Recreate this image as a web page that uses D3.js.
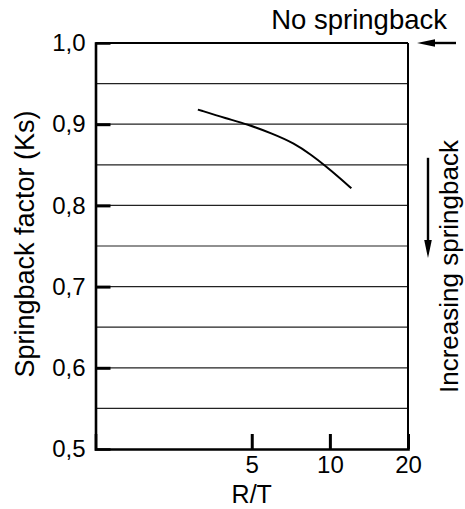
<!DOCTYPE html>
<html>
<head>
<meta charset="utf-8">
<script src="https://cdn.jsdelivr.net/npm/d3@7"></script>
<style>
  body { margin: 0; background: #fff; }
  text { font-family: "Liberation Sans", Arial, sans-serif; fill: #000; }
</style>
</head>
<body>
<div id="chart"></div>
<script>
// curve (R/T vs springback factor)
var rt = [3.1, 4, 4.8, 6, 7.3, 8.5, 9.5, 11, 12.1];
var ks = [0.918, 0.907, 0.9, 0.8885, 0.8765, 0.862, 0.85, 0.833, 0.821];

var xTicks = [5, 10, 20];
var yTicks = [0.5, 0.6, 0.7, 0.8, 0.9, 1.0];
var gridVals = [0.55, 0.6, 0.65, 0.7, 0.75, 0.8, 0.85, 0.9, 0.95];

var W = 465, H = 509;
var m = { left: 95.5, right: 57, top: 43, bottom: 60 };
var w = W - m.left - m.right, h = H - m.top - m.bottom;

var svg = d3.select('#chart').append('svg')
  .attr('width', W)
  .attr('height', H);

var g = svg.append('g')
  .attr('transform', 'translate(' + m.left + ',' + m.top + ')');

var xScale = d3.scaleLog().domain([1.25, 20]).range([0, w]);
var yScale = d3.scaleLinear().domain([0.5, 1.0]).range([h, 0]);

var comma = d3.formatLocale({ decimal: ',', thousands: '.', grouping: [3], currency: ['', ''] }).format('.1f');

// grid lines
g.selectAll('line.grid')
  .data(gridVals)
  .enter().append('line')
  .attr('class', 'grid')
  .attr('x1', 0).attr('x2', w)
  .attr('y1', function(d) { return yScale(d); })
  .attr('y2', function(d) { return yScale(d); })
  .attr('stroke', '#222')
  .attr('stroke-width', 1.2);

// top and right border
g.append('line').attr('x1', 0).attr('x2', w).attr('y1', 0).attr('y2', 0)
  .attr('stroke', '#000').attr('stroke-width', 2);
g.append('line').attr('x1', w).attr('x2', w).attr('y1', 0).attr('y2', h)
  .attr('stroke', '#000').attr('stroke-width', 2);

// y axis
var yAxis = d3.axisLeft(yScale).tickValues(yTicks).tickSize(-15).tickPadding(10).tickFormat(comma);
var ya = g.append('g').attr('class', 'yaxis').call(yAxis);
ya.select('.domain').attr('stroke', '#000').attr('stroke-width', 2.6);
ya.selectAll('.tick line').attr('stroke', '#000').attr('stroke-width', 3)
  .style('opacity', function(d) { return (d === 0.5 || d === 1.0) ? 0 : 1; });
ya.selectAll('.tick text').attr('font-size', 24).style('font-family', '"Liberation Sans", Arial, sans-serif');

// x axis
var xAxis = d3.axisBottom(xScale).tickValues(xTicks).tickSize(-15).tickPadding(7).tickFormat(d3.format('d'));
var xa = g.append('g').attr('class', 'xaxis')
  .attr('transform', 'translate(0,' + h + ')')
  .call(xAxis);
xa.select('.domain').attr('stroke', '#000').attr('stroke-width', 2.6);
xa.selectAll('.tick line').attr('stroke', '#000').attr('stroke-width', 3);
xa.selectAll('.tick text').attr('font-size', 24).style('font-family', '"Liberation Sans", Arial, sans-serif');

// the curve
var pts = rt.map(function(d, i) { return [d, ks[i]]; });
var line = d3.line()
  .x(function(d) { return xScale(d[0]); })
  .y(function(d) { return yScale(d[1]); })
  .curve(d3.curveBasis);
g.append('path')
  .datum(pts)
  .attr('d', line)
  .attr('fill', 'none')
  .attr('stroke', '#000')
  .attr('stroke-width', 2);

// axis titles
g.append('text')
  .attr('x', w / 2)
  .attr('y', h + 54)
  .attr('text-anchor', 'middle')
  .attr('font-size', 25)
  .text('R/T');

g.append('text')
  .attr('transform', 'translate(' + (34 - m.left) + ',' + (h / 2 - 2) + ') rotate(-90)')
  .attr('text-anchor', 'middle')
  .attr('font-size', 27)
  .text('Springback factor (Ks)');

// right side annotations
g.append('text')
  .attr('x', w + 39)
  .attr('y', -14)
  .attr('text-anchor', 'end')
  .attr('font-size', 27.5)
  .text('No springback');

g.append('text')
  .attr('transform', 'translate(' + (w + 50) + ',' + (yScale(0.5) - 56) + ') rotate(-90)')
  .attr('text-anchor', 'start')
  .attr('font-size', 26)
  .text('Increasing springback');

function arrow(x1, y1, x2, y2) {
  var ang = Math.atan2(y2 - y1, x2 - x1), len = 18, hw = 3.8;
  var bx = x2 - len * Math.cos(ang), by = y2 - len * Math.sin(ang);
  var px = -Math.sin(ang) * hw, py = Math.cos(ang) * hw;
  g.append('line').attr('x1', x1).attr('y1', y1).attr('x2', bx).attr('y2', by)
    .attr('stroke', '#000').attr('stroke-width', 2.4);
  g.append('path')
    .attr('d', 'M' + x2 + ',' + y2 + 'L' + (bx + px) + ',' + (by + py) + 'L' + (bx - px) + ',' + (by - py) + 'Z')
    .attr('fill', '#000');
}
arrow(w + 48, yScale(1.0), w + 9, yScale(1.0));
arrow(w + 20, yScale(0.85) - 7, w + 20, yScale(0.74) + 4);
</script>
</body>
</html>
